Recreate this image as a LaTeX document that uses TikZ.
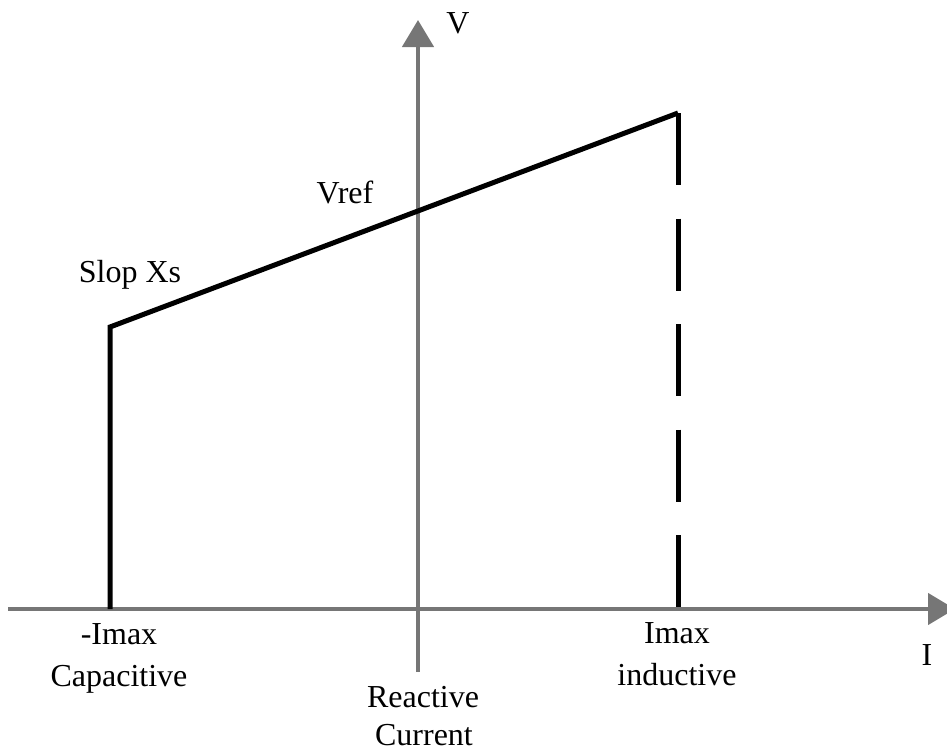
\documentclass[tikz,border=0pt]{standalone}
\usepackage{fontspec}
\setmainfont{Liberation Serif}
\newfontfamily\labelfont{Liberation Serif}
\usetikzlibrary{arrows.meta}
\definecolor{axisgray}{RGB}{118,118,118}
\begin{document}
\begin{tikzpicture}[x=1pt,y=-1pt,
  axisline/.style={draw=axisgray,line width=4.5pt,
    -{Triangle[length=27pt,width=31pt]},fill=axisgray},
  curve/.style={draw=black,line width=5pt,line join=miter},
  lbl/.style={font=\labelfont\fontsize{32pt}{42pt}\selectfont,inner sep=0pt,anchor=base}]
\useasboundingbox (0,0) rectangle (947,755);

% axes
\coordinate (xstart) at (8,609);
\coordinate (xend) at (955,609);
\coordinate (ystart) at (418,672);
\coordinate (yend) at (418,20);
\draw[axisline] (xstart) -- (xend);
\draw[axisline] (ystart) -- (yend);

% characteristic
\coordinate (capbase) at (110,609);
\coordinate (capknee) at (110,327);
\coordinate (indtop) at (678,113);
\coordinate (indbase) at (678,609);
\draw[curve] (capbase) -- (capknee) -- (indtop);
\draw[curve,dash pattern=on 72pt off 33.5pt] (indtop) -- (indbase);

% labels
\node[lbl] (vlab) at (458,33) {V};
\node[lbl] (ilab) at (927,665) {I};
\node[lbl] (vref) at (345,203) {Vref};
\node[lbl] (slop) at (130,282) {Slop Xs};
\node[lbl] (imaxneg) at (119,644) {-Imax};
\node[lbl] (capac) at (119,686) {Capacitive};
\node[lbl] (imaxpos) at (677,643) {Imax};
\node[lbl] (induct) at (677,685) {inductive};
\node[lbl] (react) at (423,707) {Reactive};
\node[lbl] (curr) at (424,745) {Current};
\end{tikzpicture}
\end{document}
